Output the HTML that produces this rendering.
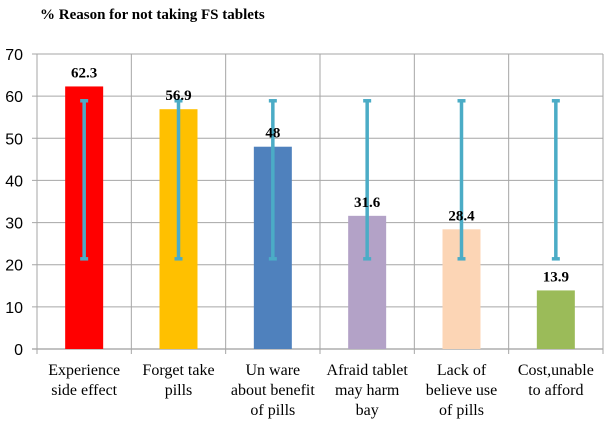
<!DOCTYPE html>
<html><head><meta charset="utf-8"><style>
body{margin:0;background:#fff;}
svg{display:block;font-family:"Liberation Serif",serif;}
</style></head><body>
<svg id="chart" width="607" height="425" viewBox="0 0 607 425" xmlns="http://www.w3.org/2000/svg">
<text x="40" y="19" font-size="15" font-weight="bold" fill="#000">% Reason for not taking FS tablets</text>
<g id="grid"></g><g id="bars"></g><g id="labels"></g>
</svg>
<script>
const categories=[["Experience","side effect"],["Forget take","pills"],["Un ware","about benefit","of pills"],["Afraid tablet","may harm","bay"],["Lack of","believe use","of pills"],["Cost,unable","to afford"]];
const values=[62.3,56.9,48,31.6,28.4,13.9];
const valueLabels=["62.3","56.9","48","31.6","28.4","13.9"];
const errLow=[21.4,21.4,21.4,21.4,21.4,21.4];
const errHigh=[58.9,58.9,58.9,58.9,58.9,58.9];
const colors=["#ff0000","#ffc000","#4f81bd","#b3a2c7","#fcd5b5","#9bbb59"];
const yTicks=[0,10,20,30,40,50,60,70];
const NS="http://www.w3.org/2000/svg";
const x0=37,x1=603,y0=349,yTop=54,ymax=70;
const bw=(x1-x0)/categories.length;
const yS=v=>y0-(v/ymax)*(y0-yTop);
const cx=i=>x0+bw*(i+0.5);
function mk(t,a,p){const e=document.createElementNS(NS,t);for(const k in a)e.setAttribute(k,a[k]);p.appendChild(e);return e;}
const grid=document.getElementById('grid'),bars=document.getElementById('bars'),labels=document.getElementById('labels');
yTicks.forEach(v=>{
 const l=mk('line',{x1:x0-5,x2:x1,y1:yS(v),y2:yS(v),stroke:v===0?'#868686':'#a6a6a6','stroke-width':1},grid);
 
 
 const t=mk('text',{x:x0-14,y:yS(v)+6,'text-anchor':'end','font-size':16,'font-family':'Liberation Sans, sans-serif',fill:'#000'},labels);
 t.textContent=v;
 
 
});
for(let i=0;i<=categories.length;i++){
 const l=mk('line',{x1:x0+bw*i,x2:x0+bw*i,y1:yTop,y2:y0+5,stroke:'#a6a6a6','stroke-width':1},grid);
 
 
}
values.forEach((v,i)=>{
 const r=mk('rect',{x:cx(i)-19,y:yS(v),width:38,height:y0-yS(v),fill:colors[i]},bars);
 
 
 const e=mk('g',{stroke:'#4bacc6','stroke-width':3.5},bars);
 
 
 mk('line',{x1:cx(i),x2:cx(i),y1:yS(errLow[i]),y2:yS(errHigh[i])},e);
 mk('line',{x1:cx(i)-4,x2:cx(i)+4,y1:yS(errLow[i]),y2:yS(errLow[i])},e);
 mk('line',{x1:cx(i)-4,x2:cx(i)+4,y1:yS(errHigh[i]),y2:yS(errHigh[i])},e);
 const t=mk('text',{x:cx(i),y:yS(v)-9,'text-anchor':'middle','font-size':15,'font-weight':'bold',fill:'#000'},labels);
 t.textContent=valueLabels[i];
 
 
 categories[i].forEach((s,j)=>{
  const c=mk('text',{x:cx(i),y:375+j*20,'text-anchor':'middle','font-size':16,fill:'#000'},labels);
  c.textContent=s;
  
  
 });
});
</script>
</body></html>
